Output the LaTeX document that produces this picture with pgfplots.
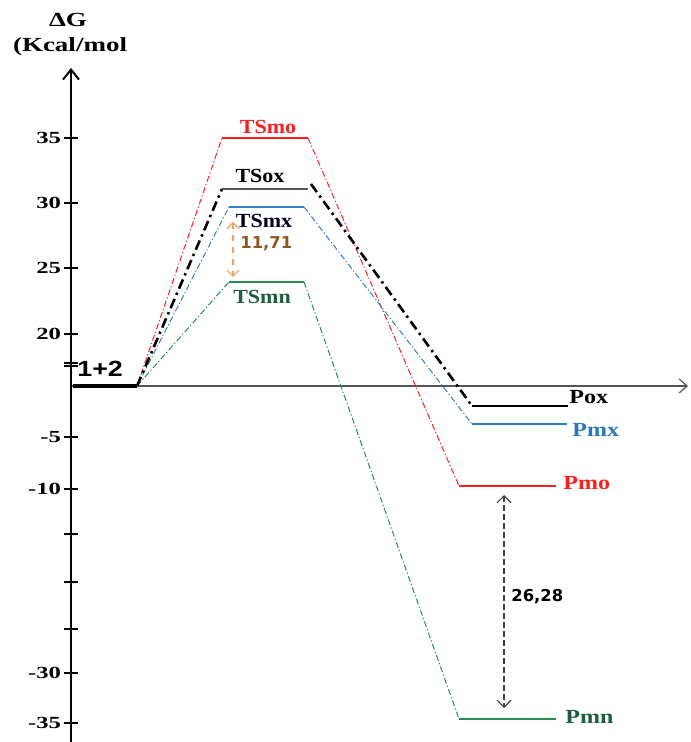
\documentclass[border=0pt]{standalone}
\usepackage{pgfplots}
\pgfplotsset{compat=1.18}
\usetikzlibrary{arrows.meta}
\usepackage{fontspec}
\setmainfont{Liberation Serif}
\newfontfamily\fA[FakeStretch=1.35]{Liberation Serif}
\newfontfamily\fB[FakeStretch=1.1]{Liberation Serif}
\newfontfamily\fC[FakeStretch=1.2]{Liberation Serif}
\newfontfamily\fD[FakeStretch=1.45]{Liberation Serif}
\newfontfamily\dejavu{DejaVu Sans}
\newfontfamily\libsans[FakeStretch=1.22]{Liberation Sans}
\definecolor{cred}{HTML}{FF1E1E}
\definecolor{cblue}{HTML}{2E7FCC}
\definecolor{cgreen}{HTML}{1F9050}
\definecolor{cgreenlab}{HTML}{1D5E3C}
\definecolor{cbluelab}{HTML}{2A78C0}
\definecolor{corange}{HTML}{F0A060}
\definecolor{cbrown}{HTML}{8C5A1E}
\definecolor{cgray}{HTML}{555555}
\tikzset{
  dd/.style={dash pattern=on 3pt off 1.2pt on 0.6pt off 1.2pt, line width=0.5pt},
  ddk/.style={dash pattern=on 5pt off 2.2pt on 1.2pt off 2.2pt, line width=1.3pt},
}
\begin{document}
\begin{tikzpicture}
\begin{axis}[
  x=0.5pt, y=0.5pt,
  axis lines=middle,
  xmin=0, xmax=617, ymin=-356, ymax=318,
  xtick=\empty,
  ytick={248,183,118,52,20,23,-51,-103,-148,-196,-243,-287,-337},
  yticklabels={35,30,25,20,{},{},-5,-10,{},{},{},-30,-35},
  tick align=center, major tick length=7pt,
  tick style={black, line width=0.6pt},
  yticklabel style={font=\fD\fontsize{8.5}{10}\selectfont\bfseries, /pgf/number format/assume math mode=true, xshift=2pt},
  y axis line style={line width=1.2pt, -{Straight Barb[length=5pt,width=8pt,line width=1pt]}},
  x axis line style={cgray, line width=0.6pt, -{Straight Barb[length=4pt,width=7pt]}},
  clip=false,
]
\coordinate (BL) at (axis cs:-71,-356);
\coordinate (TR) at (axis cs:619,386);
% connectors
\addplot[cred, dd] coordinates {(66,0) (151,248)};
\addplot[cred, dd] coordinates {(237,248) (388,-100)};
\addplot[cblue, dd] coordinates {(66,0) (158,179)};
\addplot[cblue, dd] coordinates {(233,179) (401,-38)};
\addplot[cgreen, dd] coordinates {(66,0) (158,104)};
\addplot[cgreen, dd] coordinates {(233,104) (388,-333)};
\addplot[black, ddk] coordinates {(66,0) (151,197)};
\addplot[black, ddk] coordinates {(240,202) (401,-20)};
% levels
\addplot[black, line width=2pt] coordinates {(2,0) (66,0)};
\addplot[cred, line width=1.2pt] coordinates {(151,248) (237,248)};
\addplot[cgray, line width=0.8pt] coordinates {(151,197) (237,197)};
\addplot[cblue, line width=1.2pt] coordinates {(158,179) (233,179)};
\addplot[cgreen, line width=1.2pt] coordinates {(158,104) (233,104)};
\addplot[black, line width=0.7pt] coordinates {(401,-20) (497,-20)};
\addplot[cblue, line width=1.2pt] coordinates {(401,-38) (496,-38)};
\addplot[cred, line width=1.2pt] coordinates {(388,-100) (485,-100)};
\addplot[cgreen, line width=1.2pt] coordinates {(388,-333) (485,-333)};
% difference arrows
\addplot[corange, dashed, line width=0.6pt, {Straight Barb[length=3pt,width=6pt]}-{Straight Barb[length=3pt,width=6pt]}] coordinates {(162,164) (162,109)};
\addplot[black!75, dash pattern=on 3pt off 1.5pt, line width=0.6pt, {Straight Barb[length=3.5pt,width=7pt]}-{Straight Barb[length=3.5pt,width=7pt]}] coordinates {(433,-109) (433,-322)};
% labels
\begin{scope}[every node/.style={font=\fB\fontsize{10}{12}\selectfont\bfseries, inner sep=0pt}]
\node[text=cred] at (axis cs:197,259) {TSmo};
\node[text=black] at (axis cs:189,210) {TSox};
\node[text=black!85!blue] at (axis cs:193,165) {TSmx};
\node[text=cgreenlab] at (axis cs:191,89) {TSmn};
\end{scope}
\begin{scope}[every node/.style={font=\fC\fontsize{10}{12}\selectfont\bfseries, inner sep=0pt}]
\node[text=black, anchor=west] at (axis cs:498,-11) {Pox};
\node[text=cbluelab, anchor=west] at (axis cs:501,-44) {Pmx};
\node[text=cred, anchor=west] at (axis cs:492,-97) {Pmo};
\node[text=cgreenlab, anchor=west] at (axis cs:494,-331) {Pmn};
\end{scope}
\begin{scope}[every node/.style={font=\fA\fontsize{10}{12}\selectfont\bfseries, inner sep=0pt}]
\node at (axis cs:-3,366) {ΔG};
\node at (axis cs:-1,339) {(Kcal/mol};
\end{scope}
\node[font=\libsans\fontsize{11}{13}\selectfont\bfseries, anchor=west, inner sep=0pt] at (axis cs:6,17) {1+2};
\node[font=\dejavu\fontsize{8.2}{10}\selectfont\bfseries, text=cbrown, anchor=west, inner sep=0pt] at (axis cs:169,142) {11,71};
\node[font=\dejavu\fontsize{8.2}{10}\selectfont\bfseries, anchor=west, inner sep=0pt] at (axis cs:440,-211) {26,28};
\end{axis}
\pgfresetboundingbox
\path[use as bounding box] (BL) rectangle (TR);
\end{tikzpicture}
\end{document}
